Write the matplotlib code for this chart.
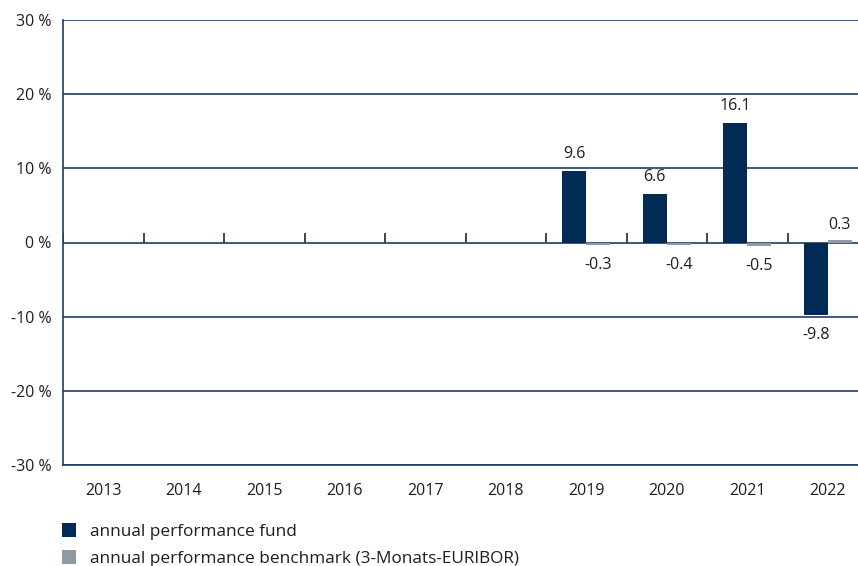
import matplotlib
matplotlib.use("Agg")
import matplotlib.pyplot as plt
import numpy as np

plt.rcParams['font.family'] = ['Open Sans', 'DejaVu Sans']

years = ['2013', '2014', '2015', '2016', '2017', '2018', '2019', '2020', '2021', '2022']
fund = [np.nan, np.nan, np.nan, np.nan, np.nan, np.nan, 9.6, 6.6, 16.1, -9.8]
benchmark = [np.nan, np.nan, np.nan, np.nan, np.nan, np.nan, -0.3, -0.4, -0.5, 0.3]
y_ticks = [-30, -20, -10, 0, 10, 20, 30]

navy = '#002B55'
grey = '#8E9BA7'
line_col = '#1E3C62'
txt = '#1E1E1E'

fig = plt.figure(figsize=(8.58, 5.66), dpi=100)
ax = fig.add_axes([63 / 858, 1 - 465 / 566, 805 / 858, 445 / 566])

x = np.arange(len(years))
w = 0.3
ax.bar(x - w / 2, fund, w, color=navy, label='annual performance fund', zorder=3)
ax.bar(x + w / 2, benchmark, w, color=grey,
       label='annual performance benchmark (3-Monats-EURIBOR)', zorder=3)

# value labels
for xi, v in zip(x, fund):
    if np.isnan(v):
        continue
    off = 1.2 if v >= 0 else -1.6
    ax.text(xi - w / 2, v + off, f'{v:.1f}', ha='center',
            va='bottom' if v >= 0 else 'top', fontsize=11.5, color=txt)
for xi, v in zip(x, benchmark):
    if np.isnan(v):
        continue
    off = 1.0 if v >= 0 else -1.6
    ax.text(xi + w / 2, v + off, f'{v:.1f}', ha='center',
            va='bottom' if v >= 0 else 'top', fontsize=11.5, color=txt)

ax.set_xlim(-0.5, len(years) - 0.5)
ax.set_ylim(-30, 30)
ax.set_yticks(y_ticks)
ax.set_yticklabels([f'{t} %' for t in y_ticks])
ax.set_xticks(x)
ax.set_xticklabels(years)
ax.tick_params(axis='both', length=0, labelsize=11.5, colors=txt)
ax.tick_params(axis='y', pad=8.5)
ax.tick_params(axis='x', pad=13)

for t in y_ticks:
    ax.axhline(t, color=line_col, lw=1.2, zorder=2)
# small separators on the zero line
ax.vlines(np.arange(len(years)) - 0.5, 0, 1.3, color=line_col, lw=1.3, zorder=2)

for s in ['top', 'right']:
    ax.spines[s].set_visible(False)
for s in ['left', 'bottom']:
    ax.spines[s].set_color(line_col)
    ax.spines[s].set_linewidth(1.2)

ax.legend(loc='upper left', bbox_to_anchor=(62 / 858, 1 - 523 / 566),
          bbox_transform=fig.transFigure, frameon=False, fontsize=12.4,
          handlelength=0.84, handleheight=0.84, handletextpad=0.8,
          labelspacing=0.6, borderpad=0, borderaxespad=0, labelcolor=txt)

fig.savefig('out.png', dpi=100)
